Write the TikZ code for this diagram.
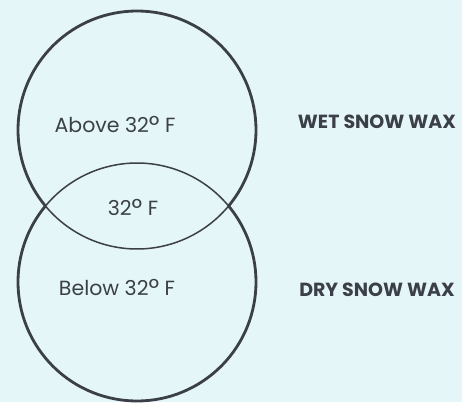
\documentclass[tikz,border=0pt]{standalone}
\usepackage{fontspec}
\setmainfont{Poppins}
\usepackage{tikz}
\usetikzlibrary{positioning}
\definecolor{paperblue}{HTML}{E5F6F9}
\definecolor{inkgray}{HTML}{3B3F47}
\newcommand{\degsign}{{\fontsize{26}{26}\selectfont\raisebox{-0.08em}{°}}}
\tikzset{
	outerline/.style={
			draw=inkgray,
			line width=2.8pt
		},
	innerline/.style={
			draw=inkgray,
			line width=1.5pt
		},
	rangetext/.style={
			text=inkgray,
			font=\fontsize{20.5}{24}\selectfont,
			inner sep=0pt
		},
	waxtext/.style={
			text=inkgray,
			font=\fontsize{19}{22}\selectfont\bfseries,
			inner sep=0pt
		}
}

\begin{document}
\begin{tikzpicture}[x=1pt,y=1pt]

              \fill[paperblue] (0,0) rectangle (462,402);
              \useasboundingbox (0,0) rectangle (462,402);

              \draw[outerline] (137,272) ++(-39.6:119) arc[start angle=-39.6, end angle=219.6, radius=119];
              \draw[outerline] (137,120) ++(39.6:119) arc[start angle=39.6, end angle=-219.6, radius=119];
              \draw[innerline] (137,272) ++(-39.6:119) arc[start angle=-39.6, end angle=-140.4, radius=119];
              \draw[innerline] (137,120) ++(39.6:119) arc[start angle=39.6, end angle=140.4, radius=119];

              \node[rangetext] (above) at (115,277) {Above 32\degsign\ F};
              \node[rangetext] (freeze) at (133,194) {32\degsign\ F};
              \node[rangetext] (below) at (117,114) {Below 32\degsign\ F};

              \node[waxtext] (wet) at (377,280) {WET SNOW WAX};
              \node[waxtext] (dry) at (377,112) {DRY SNOW WAX};

            \end{tikzpicture}
\end{document}
